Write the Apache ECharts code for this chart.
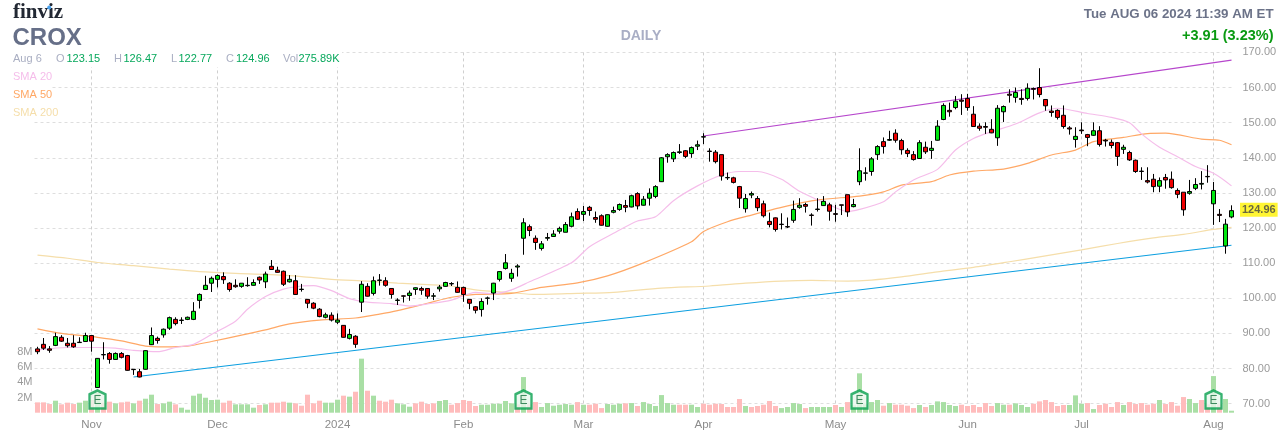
<!DOCTYPE html>
<html><head><meta charset="utf-8">
<style>html,body{margin:0;padding:0;background:#fff}#c{width:1287px;height:442px}</style>
<script src="https://cdn.jsdelivr.net/npm/echarts@6/dist/echarts.min.js"></script>
</head><body><div id="c"></div>
<script>
const opens=[85.6,86.9,85.6,86.6,88.9,87.2,87.2,87.4,87.7,89.4,
74.6,83.9,84.3,82.6,84.3,83.7,79.8,79.1,79.8,86.8,
88.6,89.6,91.5,94.0,93.7,94.0,94.0,99.4,102.5,104.3,
105.4,106.2,104.3,103.7,103.4,103.6,103.7,106.0,104.7,109.1,
108.0,107.7,104.7,105.0,102.6,99.7,98.6,96.9,94.6,95.2,
93.2,92.3,88.6,89.2,98.9,103.4,101.4,105.1,105.0,102.8,
99.4,100.7,100.8,102.5,102.8,102.8,100.6,102.7,103.4,104.1,
103.1,103.1,99.7,97.6,96.8,100.0,101.5,105.4,108.5,105.7,
108.9,117.1,120.4,117.1,114.2,117.1,117.6,119.1,118.8,120.5,
124.7,123.9,125.9,123.0,123.5,120.5,124.5,125.3,126.4,126.0,
129.8,126.5,128.5,129.0,133.2,140.3,139.7,141.5,142.0,141.2,
143.3,145.9,141.9,141.6,140.9,134.4,134.3,131.8,125.5,129.4,
128.4,126.9,121.9,122.9,121.1,120.4,122.2,125.9,126.7,123.7,
125.3,126.4,126.6,124.1,126.6,129.5,126.1,133.2,135.6,136.1,
140.9,144.6,145.0,147.0,144.9,142.1,140.9,139.8,143.0,142.1,
145.0,150.9,153.5,154.3,156.4,156.9,152.4,149.0,148.9,148.1,
145.7,153.1,158.1,157.2,156.9,156.9,159.7,160.0,156.6,153.3,
153.5,152.1,148.5,145.2,147.9,146.6,146.4,147.7,145.0,144.4,
144.3,142.4,141.5,139.3,136.2,133.5,133.9,131.9,134.4,133.9,
130.7,130.2,129.9,131.3,132.5,134.7,126.9,123.9,114.9,123.15];
const closes=[84.8,85.8,85.2,89.1,87.8,86.5,86.2,87.5,89.4,87.8,
82.9,84.0,82.6,84.3,83.2,79.5,79.7,77.6,85.1,89.4,
88.0,91.2,94.5,92.8,93.8,94.6,96.3,101.1,103.7,105.7,
106.5,105.3,102.5,103.3,104.3,103.7,104.5,105.2,106.9,108.2,
107.4,104.0,105.4,101.1,102.5,98.6,97.2,94.8,95.3,93.8,
93.8,88.9,89.7,86.9,104.0,100.6,105.0,105.2,103.7,101.1,
99.5,100.6,101.5,103.0,102.3,100.6,100.7,103.2,104.5,104.2,
101.7,101.1,98.6,96.6,99.1,100.1,104.3,107.6,110.1,107.1,
109.2,121.5,119.3,115.9,115.5,117.3,118.3,119.9,121.0,123.2,
122.5,124.7,125.0,122.5,120.8,123.8,125.0,126.7,125.9,129.2,
126.3,128.2,129.9,131.8,140.0,140.9,141.5,141.7,140.4,142.9,
143.7,146.0,141.8,138.9,134.8,134.3,133.0,128.5,128.4,129.8,
125.8,123.5,121.0,119.6,121.0,120.3,125.3,126.5,126.2,123.6,
125.4,127.6,124.8,123.9,126.5,124.6,126.7,136.3,135.7,139.7,
143.2,143.2,145.2,145.0,142.3,141.2,139.5,144.3,141.7,142.7,
149.0,154.9,153.1,156.1,156.1,154.3,148.9,148.4,148.7,147.1,
154.1,154.6,157.8,158.6,156.6,159.8,159.5,158.0,154.8,152.9,
151.5,148.9,148.2,146.1,147.7,145.8,147.7,143.8,144.8,143.5,
140.4,143.0,139.4,136.1,136.1,133.1,131.8,133.5,133.7,131.5,
129.6,125.2,130.4,132.4,132.7,134.6,130.7,123.6,121.1,124.96];
const lows=[84.1,85.3,84.5,86.4,87.6,86.0,85.9,87.4,87.6,84.8,
74.6,82.6,81.4,82.5,82.9,79.4,78.2,77.5,79.7,86.7,
87.1,88.8,91.0,92.3,92.7,93.8,93.8,97.1,102.5,101.8,
103.1,104.1,101.9,103.0,103.0,103.3,103.6,104.1,102.9,108.1,
107.3,103.5,104.5,101.0,101.9,97.2,96.9,94.6,94.3,93.4,
92.7,88.8,88.3,85.9,96.1,100.5,100.8,103.6,103.3,99.9,
98.1,98.8,99.3,101.0,101.0,99.9,99.5,101.9,103.3,103.5,
101.6,99.0,96.9,95.7,94.8,98.2,99.5,104.8,108.2,104.7,
106.2,112.4,117.7,113.8,113.6,116.4,117.5,118.4,118.8,120.2,
122.3,122.0,123.5,121.5,120.7,120.4,124.2,124.9,124.5,125.9,
125.3,126.4,126.4,128.5,133.1,138.6,138.8,141.1,139.9,140.0,
142.2,143.9,138.9,138.4,133.5,133.7,132.7,125.7,124.4,128.5,
124.8,123.0,120.2,119.0,119.6,120.0,121.5,125.5,124.4,120.7,
124.7,126.3,122.1,121.8,123.7,123.2,125.9,132.2,133.5,134.9,
139.4,141.2,144.8,144.3,140.9,140.2,139.2,139.7,141.1,139.7,
144.9,150.7,151.7,153.8,152.2,153.4,148.9,147.7,146.8,147.0,
143.4,150.2,155.7,155.7,155.1,156.3,156.6,157.2,153.4,151.7,
150.9,148.3,146.6,142.9,146.8,143.3,146.2,143.2,143.2,142.7,
137.7,141.1,139.1,135.7,133.7,132.7,130.2,130.2,131.2,131.2,
128.5,123.5,129.5,130.8,131.0,132.9,120.9,121.7,112.7,122.77];
const highs=[86.2,88.7,86.4,90.2,89.5,88.7,89.5,88.9,90.2,89.5,
83.0,87.5,84.7,84.6,84.7,83.9,79.8,79.9,85.2,91.7,
89.1,91.4,94.8,94.6,94.6,94.8,98.9,101.4,106.4,106.2,
106.8,107.4,104.6,105.4,104.3,106.0,105.4,106.2,107.6,110.9,
109.0,107.9,106.6,106.6,104.1,99.8,98.9,97.2,95.9,96.0,
95.7,92.4,91.3,89.5,104.9,104.3,106.2,106.9,106.0,102.8,
100.0,100.8,102.2,103.1,103.3,102.8,101.5,103.8,104.7,104.6,
104.8,103.3,99.7,97.8,100.0,100.5,104.4,107.7,112.6,108.4,
109.7,122.8,121.0,117.9,116.3,118.6,119.4,120.4,121.7,124.4,
125.6,126.3,126.3,124.7,123.9,123.9,126.1,127.0,128.0,129.5,
130.2,129.1,131.3,132.2,140.2,141.3,141.8,143.9,142.2,143.2,
144.9,147.0,142.7,142.2,140.9,135.8,134.6,132.0,129.7,130.4,
129.1,127.8,124.4,123.0,124.2,123.0,127.8,128.5,127.2,124.2,
128.5,129.1,127.2,126.6,126.6,129.5,128.3,142.7,137.3,140.2,
143.6,145.8,147.7,148.1,145.4,142.7,141.9,145.0,144.6,144.8,
150.7,155.5,155.7,157.6,158.1,158.2,154.7,149.8,150.1,151.0,
155.0,154.9,159.5,160.0,159.5,161.2,160.0,165.5,156.6,154.9,
153.8,154.9,149.0,148.7,150.1,146.8,150.1,149.0,145.4,145.2,
144.5,143.7,142.0,139.5,137.3,137.3,135.4,134.4,135.4,136.1,
131.3,130.2,133.7,134.2,136.2,137.9,133.1,125.4,122.6,126.47];
const volumes=[1.36,1.36,1.14,1.58,1.10,1.32,1.14,1.32,1.58,1.67,
2.63,1.30,1.45,1.23,1.36,1.45,1.23,1.58,1.84,2.37,
1.14,1.23,1.45,1.10,.66,.39,2.24,2.50,1.97,1.67,
1.71,1.32,1.58,1.10,1.10,1.10,.66,1.01,1.10,1.32,
1.32,1.45,1.32,1.23,.92,2.37,1.23,1.58,1.32,1.32,
1.71,2.24,2.11,2.76,7.11,2.89,2.24,1.58,1.45,1.71,
1.23,1.10,.79,1.23,1.45,1.14,1.23,1.54,1.67,1.05,
1.27,1.67,1.54,.88,1.05,1.05,1.18,1.18,1.54,1.23,
1.10,4.69,1.10,1.40,.75,1.27,.92,1.05,1.14,1.05,
1.40,1.05,1.05,1.18,.61,1.14,1.05,1.18,1.23,1.27,
.88,1.40,1.14,.88,2.32,1.27,1.05,1.05,1.05,1.05,
.75,1.18,1.05,1.18,1.14,.75,.75,1.80,.88,.75,
.88,1.05,1.54,.88,.61,.75,1.27,1.14,.61,.75,
.75,.75,.75,1.01,.75,1.40,.96,5.18,1.10,1.40,
1.67,.92,1.27,1.05,1.05,.92,.61,1.01,.75,1.01,
1.49,1.40,1.01,.88,1.05,.88,1.01,.75,1.27,.88,
1.27,1.05,1.05,1.23,1.01,.75,1.18,1.49,1.67,1.40,
.88,1.01,1.01,2.28,1.18,1.27,.48,1.01,1.18,.75,
1.40,1.01,1.40,1.14,1.27,1.05,1.18,1.67,1.14,1.40,
.92,2.06,1.80,1.27,1.67,1.10,4.82,1.10,1.80,.26];
const volumeUp=[0,0,0,1,0,0,0,1,1,0,
1,0,0,1,0,0,1,0,1,1,
0,1,1,0,1,1,1,1,1,1,
1,0,0,1,1,1,1,0,1,0,
0,0,1,0,0,0,0,0,1,1,
1,0,1,0,1,0,1,0,0,0,
1,1,1,0,0,0,0,1,1,0,
0,0,0,0,1,1,1,1,1,1,
0,1,0,0,1,1,1,1,1,1,
0,1,0,0,0,1,1,1,0,1,
0,1,1,1,1,1,1,0,0,1,
1,0,0,0,0,0,0,0,1,0,
0,0,0,0,1,1,1,1,0,1,
1,1,1,0,1,0,1,1,1,1,
1,0,1,0,0,0,0,1,0,1,
1,1,1,1,0,0,0,0,0,0,
1,1,0,1,1,1,0,0,0,0,
0,0,1,1,1,0,1,0,0,0,
0,1,0,0,0,0,0,1,0,0,
0,0,1,1,0,0,1,0,1,1];
const categories=opens.map((_,i)=>String(i));
const monthTickIndex=[9,30,50,71,91,111,133,155,174,196];
const monthTickLabels=['Nov','Dec','2024','Feb','Mar','Apr','May','Jun','Jul','Aug'];
const earningsIndex=[10,81,137,196];
const earningsLevel=1.74;
const sma20=[[0,85.3],[5,86.0],[10,86.0],[13,85.8],[16,85.2],[20,84.8],[23,86.0],[26,86.9],[29,89.7],[33,93.5],[35,96.9],[38,100.5],[41,102.6],[44,103.5],[46,103.6],[49,102.2],[52,99.9],[55,98.9],[59,98.5],[62,97.8],[65,98.4],[69,99.5],[73,101.7],[76,101.3],[79,102.4],[82,104.7],[89,110.1],[92,114.7],[96,118.5],[100,122.0],[103,123.2],[106,127.8],[110,132.0],[114,135.1],[117,136.1],[120,136.1],[124,133.9],[127,130.5],[132,126.6],[135,124.7],[137,125.3],[141,127.5],[143,130.3],[146,133.7],[150,136.7],[153,142.2],[156,145.5],[159,147.4],[163,149.6],[167,152.8],[170,154.1],[175,152.6],[179,151.5],[182,150.0],[184,146.8],[187,143.0],[190,140.3],[193,137.5],[196,135.6],[199,132.0]];
const sma50=[[0,91.3],[4,90.0],[10,88.9],[14,87.9],[18,86.4],[21,86.2],[25,86.4],[29,87.7],[34,89.5],[38,91.0],[42,92.7],[47,93.8],[53,94.4],[57,95.5],[60,96.5],[65,98.6],[69,100.3],[73,101.1],[79,101.4],[84,103.1],[90,104.4],[95,106.4],[101,110.1],[109,116.1],[111,119.0],[115,121.8],[119,123.7],[124,125.9],[130,128.0],[137,129.1],[141,130.3],[144,132.2],[149,133.2],[152,135.1],[156,136.2],[161,136.8],[165,138.4],[169,140.8],[173,142.2],[176,144.6],[181,145.8],[185,146.9],[188,147.0],[194,145.3],[197,145.0],[199,143.7]];
const sma200=[[0,112.3],[5,111.4],[10,110.2],[16,109.3],[22,108.3],[27,107.6],[33,107.1],[38,106.8],[44,106.2],[49,105.4],[55,104.9],[60,104.3],[65,103.9],[69,103.5],[73,102.4],[79,101.6],[83,101.1],[90,101.4],[96,101.7],[104,102.9],[112,103.5],[118,104.3],[124,104.9],[129,105.1],[135,104.9],[139,105.2],[144,106.1],[150,107.5],[156,108.8],[162,110.4],[167,111.8],[174,113.8],[180,115.6],[186,117.2],[191,118.2],[196,119.6],[199,120.2]];
const supportLine=[[16,77.6],[199,115.1]];
const resistanceLine=[[111,146.2],[199,167.8]];
const lastPrice=124.96;
const ohlcRow=[['Aug 6',13,'#a9aec2'],['O',56,'#a9aec2'],['123.15',66.5,'#07a85c'],['H',114,'#a9aec2'],['126.47',123.5,'#07a85c'],['L',171,'#a9aec2'],['122.77',178.5,'#07a85c'],['C',226,'#a9aec2'],['124.96',236,'#07a85c'],['Vol',283,'#a9aec2'],['275.89K',298.5,'#07a85c']];
const smaLegend=[['SMA 20',76.5,'#f5bdea'],['SMA 50',94.5,'#ffa866'],['SMA 200',112.5,'#f5deaa']];

const FONT='"Liberation Sans",Arial,sans-serif';
const G=34.5,W=1200;
const text=(t,x,y,size,fill,weight,align)=>({type:'text',x,y,z:50,silent:true,style:{text:t,fontFamily:FONT,fontSize:size,fontWeight:weight||'normal',fill,align:align||'left',verticalAlign:'middle'}});
const graphic=[
 {type:'text',x:13,y:13,z:50,silent:true,style:{text:'finviz',fontFamily:'"Liberation Serif",serif',fontSize:21,fontWeight:'bold',fill:'#222833',align:'left',verticalAlign:'middle'}},
 {type:'circle',z:51,silent:true,shape:{cx:49.2,cy:7.5,r:2},style:{fill:'#4aa3f0'}},
 text('CROX',12.5,38,24,'#666f88','bold'),
 {type:'rect',z:49,silent:true,shape:{x:0,y:51,width:342,height:16},style:{fill:'#fff'}},
 {type:'rect',z:49,silent:true,shape:{x:0,y:68,width:52,height:18},style:{fill:'#fff'}},
 {type:'rect',z:49,silent:true,shape:{x:0,y:86,width:52,height:18},style:{fill:'#fff'}},
 {type:'rect',z:49,silent:true,shape:{x:0,y:104,width:58,height:16},style:{fill:'#fff'}},
 text('DAILY',641,36,14,'#a9aec5','bold','center'),
 text('Tue AUG 06 2024 11:39 AM ET',1273.5,14,13.3,'#6b7288','bold','right'),
 text('+3.91 (3.23%)',1273.5,35.5,14.5,'#0a9a12','bold','right'),
 ...ohlcRow.map(r=>text(r[0],r[1],58.5,11,r[2])),
 ...smaLegend.map(r=>text(r[0],13,r[1],11,r[2]))
];
const line=(name,data,color,w,z,smooth)=>({name,type:'line',xAxisIndex:0,yAxisIndex:0,data,showSymbol:false,symbol:'none',smooth:smooth||false,lineStyle:{color,width:w},z,silent:true,clip:false});
const option={
 animation:false,
 backgroundColor:'#fff',
 graphic,
 grid:[
  {left:G,width:W,top:52.4,height:351.3},
  {left:G,width:W,top:336.7,height:76}
 ],
 xAxis:[
  {type:'category',gridIndex:0,data:categories,boundaryGap:true,axisLine:{show:false},axisTick:{show:false},axisLabel:{show:false},
   splitLine:{show:true,alignWithLabel:true,interval:(i)=>monthTickIndex.includes(i),lineStyle:{color:'#cfcfcf',type:[3,3],width:1}}},
  {type:'category',gridIndex:1,data:categories,boundaryGap:true,axisLine:{show:false},axisTick:{show:false},splitLine:{show:false},
   axisLabel:{show:true,interval:(i)=>monthTickIndex.includes(i),formatter:(v)=>monthTickLabels[monthTickIndex.indexOf(+v)]||'',color:'#8c8c8c',fontFamily:FONT,fontSize:11.5,margin:6.5,hideOverlap:false}}
 ],
 yAxis:[
  {type:'value',gridIndex:0,position:'right',min:70,max:170,interval:10,axisLine:{show:false},axisTick:{show:false},
   axisLabel:{color:'#9a9a9a',fontFamily:FONT,fontSize:11,margin:8,formatter:(v)=>v.toFixed(2),align:'left',padding:[0,0,2,0]},
   splitLine:{show:true,lineStyle:{color:'#dedede',type:[3,3],width:1}}},
  {type:'value',gridIndex:1,position:'left',min:0,max:10,interval:2,axisLine:{show:false},axisTick:{show:false},splitLine:{show:false},
   axisLabel:{color:'#9a9a9a',fontFamily:FONT,fontSize:11,margin:2,padding:[0,0,2,0],formatter:(v)=>(v>0&&v<10)?v+'M':''}}
 ],
 series:[
  {name:'Volume',type:'bar',xAxisIndex:1,yAxisIndex:1,barWidth:5,z:1,silent:true,
   data:volumes.map((v,i)=>({value:v,itemStyle:{color:volumeUp[i]?'#a9dfa5':'#ffbcbc'}}))},
  line('SMA 200',sma200,'#f5deaa',1.2,3,0.25),
  line('SMA 50',sma50,'#ffa866',1.2,3,0.25),
  line('SMA 20',sma20,'#f5bdea',1.2,3,0.25),
  line('Support',supportLine,'#0d9fe0',1.2,4),
  line('Resistance',resistanceLine,'#b646cc',1.2,4),
  {name:'CROX',type:'candlestick',xAxisIndex:0,yAxisIndex:0,barWidth:5,z:5,silent:true,
   itemStyle:{color:'#00e60f',color0:'#ee0000',borderColor:'#000',borderColor0:'#000',borderColorDoji:'#000',borderWidth:1},
   data:opens.map((o,i)=>[o,closes[i],lows[i],highs[i]])},
  {name:'Earnings',type:'scatter',xAxisIndex:1,yAxisIndex:1,z:8,silent:true,
   symbol:'path://M1,4 L9,0 L17,4 L17,19 L1,19 Z',symbolSize:[16,18],
   itemStyle:{color:'#e9f6ec',borderColor:'#07a04f',borderWidth:2.5},
   label:{show:true,position:'inside',formatter:'E',color:'#17703f',fontFamily:FONT,fontSize:12,offset:[0,1]},
   data:earningsIndex.map(i=>[i,earningsLevel])},
  {name:'Last',type:'scatter',xAxisIndex:0,yAxisIndex:0,z:9,silent:true,symbolSize:0,
   label:{show:true,position:'right',distance:8.5,formatter:(p)=>p.value[1].toFixed(2),color:'#444',fontFamily:FONT,fontSize:11,fontWeight:'bold',backgroundColor:'#fff200',padding:[2,2,1,2],offset:[0,-1]},
   data:[[opens.length-1,lastPrice]]}
 ]
};
const chart=echarts.init(document.getElementById('c'),null,{renderer:'canvas',width:1287,height:442});
chart.setOption(option);
</script></body></html>
